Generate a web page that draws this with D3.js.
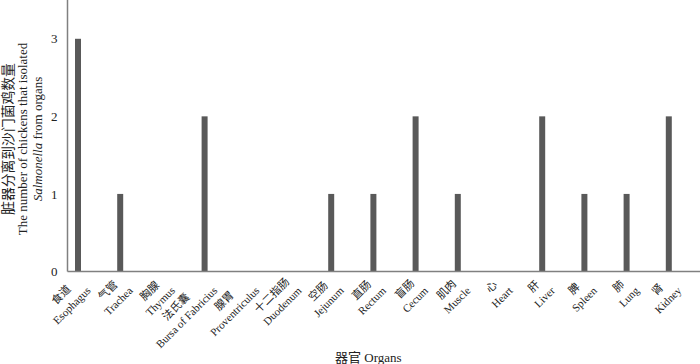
<!DOCTYPE html>
<html>
<head>
<meta charset="utf-8">
<style>
  body { margin: 0; background: #fff; }
  text { font-family: "Liberation Serif", "Times New Roman", "Noto Sans CJK SC", serif; fill: #222; }
</style>
</head>
<body>
<svg width="700" height="364"></svg>
<script src="https://cdn.jsdelivr.net/npm/d3@7/dist/d3.min.js"></script>
<script>
// organs (chinese / english) and number of positive chickens
var organsCn = ["食道", "气管", "胸腺", "法氏囊", "腺胃", "十二指肠", "空肠", "直肠", "盲肠", "肌肉", "心", "肝", "脾", "肺", "肾"];
var organsEn = ["Esophagus", "Trachea", "Thymus", "Bursa of Fabricius", "Proventriculus", "Duodenum", "Jejunum", "Rectum", "Cecum", "Muscle", "Heart", "Liver", "Spleen", "Lung", "Kidney"];
var counts = [3, 1, 0, 2, 0, 0, 1, 1, 2, 1, 0, 2, 1, 1, 2];
var yTicks = [0, 1, 2, 3];

var svg = d3.select("svg");
var axisLeftX = 67.5, baseY = 271.5;

var x = d3.scaleBand()
    .domain(organsEn)
    .range([56.9, 689.9])
    .paddingInner(0.858)
    .paddingOuter(0.429);

var y = d3.scaleLinear()
    .domain([0, 3.5])
    .range([baseY, 0]);

// bars
svg.append("g")
  .selectAll("rect")
  .data(counts)
  .enter()
  .append("rect")
    .attr("x", function(d, i) { return x(organsEn[i]); })
    .attr("width", x.bandwidth())
    .attr("y", function(d) { return y(d); })
    .attr("height", function(d) { return baseY - y(d); })
    .attr("fill", "#595959");

// axis lines
svg.append("line")
  .attr("x1", axisLeftX).attr("x2", axisLeftX)
  .attr("y1", 0).attr("y2", baseY)
  .attr("stroke", "#808080").attr("stroke-width", 1.5);
svg.append("line")
  .attr("x1", axisLeftX).attr("x2", 700)
  .attr("y1", baseY).attr("y2", baseY)
  .attr("stroke", "#808080").attr("stroke-width", 1.5);

// y ticks
var yAxis = svg.append("g")
  .attr("transform", "translate(" + axisLeftX + ",0)")
  .call(d3.axisLeft(y).tickValues(yTicks).tickSize(0).tickPadding(10).tickFormat(d3.format("d")));
yAxis.select(".domain").remove();
yAxis.selectAll("text")
  .attr("font-size", 13)
  .style("font-family", "Liberation Serif, serif")
  .attr("fill", "#222");

// category labels: two centred lines, block rotated -45 about its right end
var c45 = Math.SQRT1_2, lineH = 15;
var catG = svg.append("g");
organsEn.forEach(function(en, i) {
  var ax = x(en) + x.bandwidth() / 2, ay = 278;
  var t1 = catG.append("text").attr("font-size", 11).attr("text-anchor", "middle").text(organsCn[i]);
  var t2 = catG.append("text").attr("font-size", 11).attr("text-anchor", "middle").text(en);
  var w = Math.max(t1.node().getComputedTextLength(), t2.node().getComputedTextLength());
  [t1, t2].forEach(function(t, k) {
    // local offset (-w/2, k*lineH) rotated by -45deg
    var lx = -w / 2, ly = k * lineH;
    var cx = ax + c45 * (lx + ly), cy = ay + c45 * (ly - lx);
    t.attr("x", cx).attr("y", cy).attr("dy", "0.35em")
     .attr("transform", "rotate(-45," + cx + "," + cy + ")");
  });
});

// x title
svg.append("text")
  .attr("x", 335).attr("y", 357).attr("dy", "0.35em")
  .attr("font-size", 13)
  .text("器官 Organs");

// y title
var yt = svg.append("g").attr("transform", "translate(0,139) rotate(-90)");
yt.append("text").attr("y", 8).attr("dy", "0.35em").attr("text-anchor", "middle")
  .attr("font-size", 13.8).text("脏器分离到沙门菌鸡数量");
yt.append("text").attr("y", 22.5).attr("dy", "0.35em").attr("text-anchor", "middle")
  .attr("font-size", 13).text("The number of chickens that isolated");
var t3 = yt.append("text").attr("y", 37).attr("dy", "0.35em").attr("text-anchor", "middle")
  .attr("font-size", 13);
t3.append("tspan").attr("font-style", "italic").text("Salmonella");
t3.append("tspan").text(" from organs");
</script>
</body>
</html>
